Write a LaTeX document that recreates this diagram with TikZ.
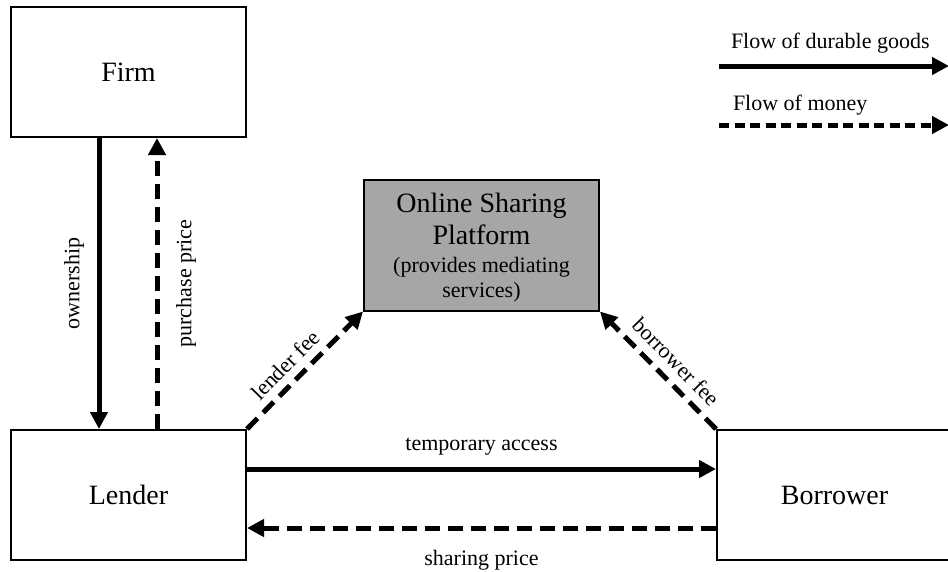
\documentclass[tikz,border=0pt]{standalone}
\usepackage{fontspec}
\setmainfont{Liberation Serif}
\usetikzlibrary{arrows.meta}
\definecolor{platgray}{RGB}{166,166,166}
\begin{document}
\begin{tikzpicture}[x=1pt,y=-1pt,
  actor/.style={draw, line width=2pt, minimum width=235pt, minimum height=130pt, inner sep=0pt,
    font=\fontsize{28}{32}\selectfont},
  goods/.style={line width=5pt, -{Triangle[length=17pt,width=17pt]}},
  money/.style={goods, dash pattern=on 15pt off 8pt},
  legmoney/.style={goods, dash pattern=on 10pt off 5.5pt},
  lab/.style={font=\fontsize{22}{26}\selectfont, inner sep=0pt, outer sep=0pt},
]
\useasboundingbox (0,0) rectangle (948,571);
\fill[white] (0,0) rectangle (948,571);

\node[actor] (firm) at (128.5,72) {Firm};
\node[actor] (lender) at (128.5,495) {Lender};
\node[actor] (borrower) at (834.5,495) {Borrower};
\node[actor, fill=platgray, minimum height=131pt, align=center, font=\fontsize{22}{25}\selectfont] (plat) at (481.5,245)
  {\rule{0pt}{2pt}\\[-2pt]{\fontsize{28}{32}\selectfont Online Sharing}\\[5pt]{\fontsize{28}{32}\selectfont Platform}\\[3pt](provides mediating\\[0pt]services)};

% firm <-> lender
\draw[goods] ([xshift=-29.5pt]firm.south) -- ([xshift=-29.5pt]lender.north)
  node[lab, midway, rotate=90, anchor=south, outer sep=15pt] {ownership};
\draw[money] ([xshift=28.5pt]lender.north) -- ([xshift=28.5pt]firm.south)
  node[lab, midway, rotate=90, anchor=north, outer sep=19pt] {purchase price};

% fees
\draw[money] (lender.north east) -- (plat.south west)
  node[lab, pos=0.44, sloped, above=10pt] {lender fee};
\draw[money] (borrower.north west) -- (plat.south east)
  node[lab, pos=0.46, sloped, above=11pt] {borrower fee};

% lender <-> borrower
\draw[goods] ([yshift=26pt]lender.east) -- ([yshift=26pt]borrower.west)
  node[lab, midway, above=14pt] {temporary access};
\draw[money] ([yshift=-33pt]borrower.west) -- ([yshift=-33pt]lender.east)
  node[lab, midway, below=22pt] {sharing price};

% legend
\coordinate (g1) at (719,66);
\coordinate (g2) at (949,66);
\coordinate (m1) at (719,125);
\coordinate (m2) at (949,125);
\draw[goods] (g1) -- (g2);
\draw[legmoney] (m1) -- (m2);
\node[lab, anchor=base west] (lg) at (731,48) {Flow of durable goods};
\node[lab, anchor=base west] (lm) at (733,110) {Flow of money};
\end{tikzpicture}
\end{document}
